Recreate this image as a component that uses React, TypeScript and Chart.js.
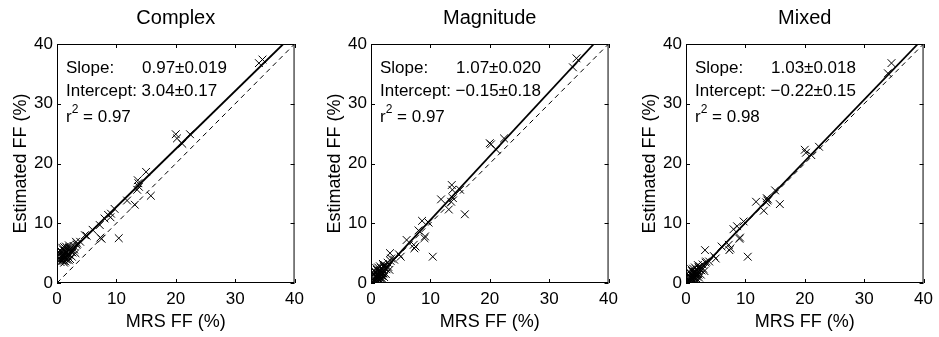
import React, { useEffect, useRef } from "react";
import { Chart, registerables } from "chart.js";

Chart.register(...registerables);

const FONT = "'Liberation Sans', Arial, Helvetica, sans-serif";

const PANEL_TITLES = ["Complex", "Magnitude", "Mixed"];
const SLOPE_TEXT = ["0.97\u00b10.019", "1.07\u00b10.020", "1.03\u00b10.018"];
const INTERCEPT_TEXT = ["3.04\u00b10.17", "\u22120.15\u00b10.18", "\u22120.22\u00b10.15"];
const R2_TEXT = ["0.97", "0.97", "0.98"];
const SLOPES = [0.97, 1.07, 1.03];
const INTERCEPTS = [3.04, -0.15, -0.22];
const AXIS_TICKS = [0, 10, 20, 30, 40];
const AXIS_MIN = 0;
const AXIS_MAX = 40;

// MRS fat fraction (x) shared by the three panels
const MRS_FF = [
  34.0, 34.6, 20.0, 20.2, 21.1, 22.4, 15.0, 13.6, 13.7, 13.8,
  13.5, 15.8, 13.1, 11.8, 9.7, 8.6, 8.0, 9.1, 9.0, 7.5,
  7.3, 10.4, 6.0, 7.2, 5.0, 3.9, 3.2, 4.7,
  0.4, 0.5, 0.6, 0.7, 0.8, 0.9, 1.0, 1.1, 1.2, 1.3,
  0.5, 0.7, 0.9, 1.1, 1.3, 1.5, 1.7, 1.9, 2.1, 2.3,
  0.6, 0.8, 1.0, 1.2, 1.4, 1.6, 1.8, 2.0, 2.2, 2.4,
  1.0, 1.3, 1.6, 1.9, 2.2, 2.5, 2.8, 3.1, 3.4, 0.8,
  1.2, 1.5, 1.8, 2.1, 2.6, 2.9, 3.3, 1.4, 1.7, 2.0,
];

const COMPLEX_FF = [
  36.8, 37.4, 24.9, 24.2, 23.3, 24.9, 18.6, 17.2, 16.7, 16.1,
  15.6, 14.6, 13.1, 13.8, 12.4, 11.4, 10.8, 11.6, 11.0, 7.4,
  7.6, 7.5, 8.9, 9.7, 7.9, 6.9, 6.9, 8.0,
  4.0, 4.9, 3.5, 5.3, 4.2, 3.8, 5.6, 4.4, 3.4, 5.0,
  5.5, 4.6, 5.9, 3.7, 4.8, 6.1, 4.1, 5.4, 4.7, 5.8,
  3.9, 5.1, 4.3, 6.0, 3.6, 5.0, 4.5, 6.3, 4.0, 5.2,
  4.7, 5.4, 3.9, 4.9, 5.7, 4.4, 6.2, 5.0, 6.6, 4.6,
  4.1, 5.3, 4.8, 6.0, 5.1, 5.6, 6.4, 4.3, 5.8, 3.8,
];

const MAGNITUDE_FF = [
  36.1, 37.6, 23.4, 23.2, 22.3, 24.2, 15.6, 16.4, 15.6, 14.2,
  13.6, 11.5, 12.3, 14.0, 10.1, 10.4, 8.8, 7.8, 7.5, 6.1,
  5.8, 4.4, 7.2, 6.4, 4.4, 3.9, 5.0, 4.8,
  0.7, 1.5, 0.3, 1.9, 1.0, 0.5, 2.2, 1.2, 0.6, 1.8,
  2.1, 1.1, 2.5, 0.4, 1.4, 2.8, 0.9, 2.3, 1.6, 3.0,
  0.5, 1.7, 0.8, 2.6, 0.4, 1.9, 1.2, 3.2, 1.0, 2.4,
  1.3, 2.0, 0.7, 1.6, 2.7, 1.5, 3.4, 2.2, 4.1, 1.1,
  0.8, 2.1, 1.4, 2.9, 2.3, 2.7, 3.7, 1.0, 2.5, 0.6,
];

const MIXED_FF = [
  35.1, 36.8, 22.3, 21.8, 21.4, 22.8, 15.5, 14.2, 13.8, 14.0,
  13.5, 13.2, 12.1, 13.6, 10.3, 9.5, 9.0, 7.6, 7.4, 5.8,
  5.5, 4.4, 6.1, 6.4, 4.1, 3.6, 5.5, 4.5,
  0.6, 1.3, 0.2, 1.7, 0.9, 0.4, 2.0, 1.1, 0.5, 1.6,
  1.9, 1.0, 2.3, 0.3, 1.2, 2.6, 0.8, 2.1, 1.4, 2.8,
  0.4, 1.5, 0.7, 2.4, 0.3, 1.8, 1.1, 3.0, 0.9, 2.2,
  1.2, 1.8, 0.6, 1.5, 2.5, 1.4, 3.1, 2.0, 3.6, 1.0,
  0.7, 1.9, 1.3, 2.7, 2.1, 2.4, 3.4, 0.9, 2.3, 0.5,
];

const ESTIMATES = [COMPLEX_FF, MAGNITUDE_FF, MIXED_FF];

const CANVAS_LEFT = [0, 314, 629];
const CANVAS_W = 310;
const CANVAS_H = 337;

function decorPlugin(i: number) {
  return {
    id: "decor" + i,
    afterDraw(chart: any) {
      const { ctx, chartArea: a, scales } = chart;
      const xs = scales.x;
      const ys = scales.y;
      ctx.save();
      ctx.strokeStyle = "#000";
      ctx.lineWidth = 1;
      ctx.strokeRect(a.left + 0.5, a.top + 0.5, a.right - a.left - 1, a.bottom - a.top - 1);
      ctx.beginPath();
      for (const v of AXIS_TICKS) {
        const px = Math.round(xs.getPixelForValue(v)) + 0.5;
        ctx.moveTo(px, a.bottom);
        ctx.lineTo(px, a.bottom - 4);
        ctx.moveTo(px, a.top);
        ctx.lineTo(px, a.top + 4);
        const py = Math.round(ys.getPixelForValue(v)) + 0.5;
        ctx.moveTo(a.left, py);
        ctx.lineTo(a.left + 4, py);
        ctx.moveTo(a.right, py);
        ctx.lineTo(a.right - 4, py);
      }
      ctx.stroke();

      ctx.fillStyle = "#000";
      ctx.textBaseline = "middle";
      ctx.textAlign = "center";
      ctx.font = "20px " + FONT;
      ctx.fillText(PANEL_TITLES[i], (a.left + a.right) / 2, a.top - 26);

      ctx.textAlign = "left";
      ctx.font = "17px " + FONT;
      const x0 = a.left + 9;
      ctx.fillText("Slope:", x0, a.top + 24);
      ctx.fillText(SLOPE_TEXT[i], a.left + 85, a.top + 24);
      ctx.fillText("Intercept: " + INTERCEPT_TEXT[i], x0, a.top + 47);
      ctx.fillText("r", x0, a.top + 73);
      const rw = ctx.measureText("r").width;
      ctx.font = "12px " + FONT;
      ctx.fillText("2", x0 + rw, a.top + 66);
      const w2 = ctx.measureText("2").width;
      ctx.font = "17px " + FONT;
      ctx.fillText(" = " + R2_TEXT[i], x0 + rw + w2, a.top + 73);
      ctx.restore();
    },
  };
}

function Panel({ index }: { index: number }) {
  const ref = useRef<HTMLCanvasElement | null>(null);
  useEffect(() => {
    if (!ref.current) return;
    const ys = ESTIMATES[index];
    const points = MRS_FF.map((x, k) => ({ x, y: ys[k] }));
    const slope = SLOPES[index];
    const icpt = INTERCEPTS[index];
    const xStart = Math.min(...MRS_FF);
    const xEnd = (AXIS_MAX - icpt) / slope;
    const fit = [
      { x: xStart, y: icpt + slope * xStart },
      { x: xEnd, y: icpt + slope * xEnd },
    ];
    const identity = [
      { x: AXIS_MIN, y: AXIS_MIN },
      { x: AXIS_MAX, y: AXIS_MAX },
    ];
    const chart = new Chart(ref.current, {
      type: "scatter",
      data: {
        datasets: [
          {
            data: points,
            pointStyle: "crossRot",
            pointRadius: 5.5,
            borderColor: "#000",
            backgroundColor: "#000",
            borderWidth: 1,
            showLine: false,
          } as any,
          {
            data: identity,
            showLine: true,
            borderColor: "#000",
            borderWidth: 1,
            borderDash: [5, 4],
            pointRadius: 0,
          },
          {
            data: fit,
            showLine: true,
            borderColor: "#000",
            borderWidth: 1.8,
            pointRadius: 0,
          },
        ],
      },
      options: {
        responsive: false,
        maintainAspectRatio: false,
        animation: false,
        devicePixelRatio: 1,
        events: [],
        layout: { padding: { top: 44, right: 14, left: 0, bottom: 0 } },
        plugins: {
          legend: { display: false },
          title: { display: false },
          tooltip: { enabled: false },
        },
        scales: {
          x: {
            type: "linear",
            position: "bottom",
            min: AXIS_MIN,
            max: AXIS_MAX,
            afterFit: (s: any) => {
              s.height = 54;
            },
            afterBuildTicks: (s: any) => {
              s.ticks = AXIS_TICKS.map((v) => ({ value: v }));
            },
            ticks: {
              color: "#000",
              font: { size: 17, family: FONT },
              padding: 6,
              maxRotation: 0,
            },
            grid: { display: false, drawTicks: false },
            border: { display: false },
            title: {
              display: true,
              text: "MRS FF (%)",
              color: "#000",
              font: { size: 18, family: FONT },
              padding: { top: 0, bottom: 4 },
            },
          },
          y: {
            type: "linear",
            position: "left",
            min: AXIS_MIN,
            max: AXIS_MAX,
            afterFit: (s: any) => {
              s.width = 57;
            },
            afterBuildTicks: (s: any) => {
              s.ticks = AXIS_TICKS.map((v) => ({ value: v }));
            },
            ticks: {
              color: "#000",
              font: { size: 17, family: FONT },
              padding: 4,
            },
            grid: { display: false, drawTicks: false },
            border: { display: false },
            title: {
              display: true,
              text: "Estimated FF (%)",
              color: "#000",
              font: { size: 18, family: FONT },
              padding: { top: 10, bottom: 0 },
            },
          },
        },
      } as any,
      plugins: [decorPlugin(index)],
    });
    return () => chart.destroy();
  }, [index]);
  return (
    <canvas
      ref={ref}
      width={CANVAS_W}
      height={CANVAS_H}
      style={{ position: "absolute", left: CANVAS_LEFT[index], top: 0, width: CANVAS_W, height: CANVAS_H }}
    />
  );
}

export default function App() {
  return (
    <div
      style={{
        position: "absolute",
        left: 0,
        top: 0,
        width: 939,
        height: 337,
        background: "#fff",
        overflow: "hidden",
      }}
    >
      {PANEL_TITLES.map((_, i) => (
        <Panel key={i} index={i} />
      ))}
    </div>
  );
}
